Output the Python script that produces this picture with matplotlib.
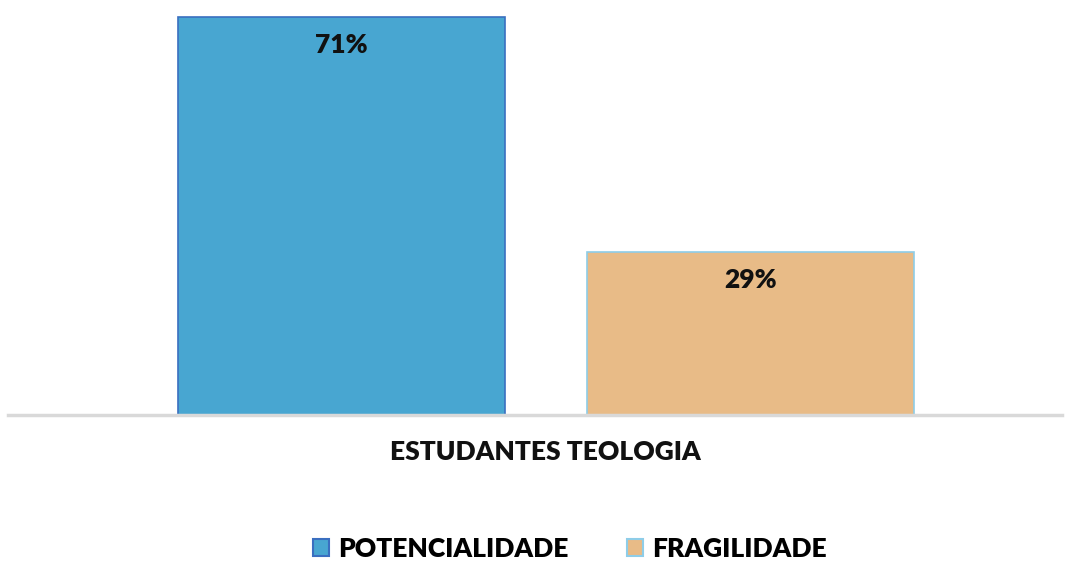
import matplotlib
matplotlib.use("Agg")
import matplotlib.pyplot as plt
from matplotlib.patches import Patch

categories = ["POTENCIALIDADE", "FRAGILIDADE"]
values = [71, 29]
group_label = "ESTUDANTES TEOLOGIA"
face_colors = ["#48A6D1", "#E8BB87"]
edge_colors = ["#3A6FC0", "#8ECDE8"]

plt.rcParams['font.family'] = ['Lato', 'DejaVu Sans']

fig = plt.figure(figsize=(10.65, 5.61), dpi=100)
ax = fig.add_axes([8/1065, (561-415)/561, (1062-8)/1065, (415-10)/561])

x = [0, 1]
bars = ax.bar(x, values, width=0.8, color=face_colors, edgecolor=edge_colors, linewidth=1.2, zorder=2)
for xi, v in zip(x, values):
    ax.text(xi, v - 5.0, f"{v}%", ha="center", va="center", fontsize=19, fontweight="heavy", color="#111111")

ax.set_xlim(-0.815, 1.762)
ax.set_ylim(0, 71 + 7/5.606)
for s in ["top", "right", "left"]:
    ax.spines[s].set_visible(False)
ax.spines["bottom"].set_color("#d9d9d9")
ax.spines["bottom"].set_linewidth(2.5)
ax.set_yticks([])
ax.set_xticks([0.5])
ax.set_xticklabels([group_label], fontsize=19, fontweight="heavy", color="#111111")
ax.tick_params(axis="x", length=0, pad=18)

handles = [Patch(facecolor=fc, edgecolor=ec, linewidth=1.5) for fc, ec in zip(face_colors, edge_colors)]
fig.legend(handles, categories, loc="center", bbox_to_anchor=(570/1065, 1 - 549/561), ncol=2,
           frameon=False, prop={"size": 19, "weight": "heavy"}, handlelength=0.6, handleheight=0.6,
           handletextpad=0.35, columnspacing=2.2)

fig.savefig("out.png", dpi=100)
